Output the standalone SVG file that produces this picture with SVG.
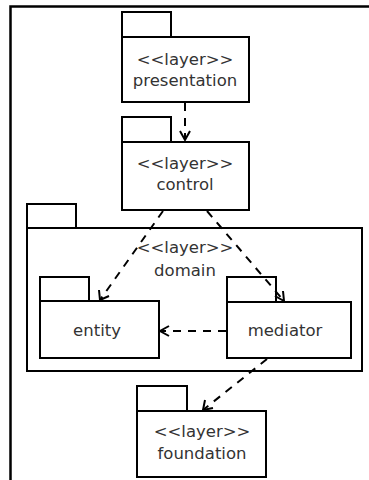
<svg xmlns="http://www.w3.org/2000/svg" width="369" height="480" viewBox="0 0 369 480">
<defs>
<style>
.pk{fill:#fff;stroke:#000;stroke-width:2}
.t{font-family:"DejaVu Sans",sans-serif;font-size:16.5px;fill:#333;text-anchor:middle}
.c{fill:none;stroke:#000;stroke-width:2;stroke-dasharray:8 7}
.ah{fill:none;stroke:#000;stroke-width:2}
</style>
</defs>
<rect width="369" height="480" fill="#fff"/>
<path d="M10.5 480 V6.5 H369" fill="none" stroke="#000" stroke-width="2.5"/>
<g id="domain">
<rect class="pk" x="27" y="204" width="49" height="24"/>
<rect class="pk" x="27" y="228" width="335" height="143"/>
<text class="t" x="185" y="253">&lt;&lt;layer&gt;&gt;</text>
<text class="t" x="185" y="276">domain</text>
</g>
<g id="presentation">
<rect class="pk" x="122" y="12" width="49" height="25"/>
<rect class="pk" x="122" y="37" width="127" height="65"/>
<text class="t" x="185" y="65">&lt;&lt;layer&gt;&gt;</text>
<text class="t" x="185" y="86">presentation</text>
</g>
<g id="control">
<rect class="pk" x="122" y="117" width="49" height="25"/>
<rect class="pk" x="122" y="142" width="127" height="68"/>
<text class="t" x="185" y="169">&lt;&lt;layer&gt;&gt;</text>
<text class="t" x="185" y="190">control</text>
</g>
<g id="entity">
<rect class="pk" x="40" y="277" width="49" height="24"/>
<rect class="pk" x="40" y="301" width="119" height="57"/>
<text class="t" x="97" y="336">entity</text>
</g>
<g id="mediator">
<rect class="pk" x="227" y="277" width="49" height="25"/>
<rect class="pk" x="227" y="302" width="124" height="56"/>
<text class="t" x="285" y="336">mediator</text>
</g>
<g id="foundation">
<rect class="pk" x="137" y="386" width="50" height="25"/>
<rect class="pk" x="137" y="411" width="129" height="66"/>
<text class="t" x="202" y="437">&lt;&lt;layer&gt;&gt;</text>
<text class="t" x="202" y="459">foundation</text>
</g>
<g id="connectors">
<path class="c" d="M185 103 V140"/>
<path class="ah" d="M180 131 L185 140 L190 131"/>
<path class="c" d="M163 211 L100 300"/>
<path class="ah" d="M99 290 L100 300 L109 296"/>
<path class="c" d="M207 211 L284 301"/>
<path class="ah" d="M275 296 L284 301 L283 291"/>
<path class="c" d="M226 331 L160 331"/>
<path class="ah" d="M169 326 L160 331 L169 336"/>
<path class="c" d="M267 359 L203 410"/>
<path class="ah" d="M205 400 L203 410 L213 408"/>
</g>
</svg>
